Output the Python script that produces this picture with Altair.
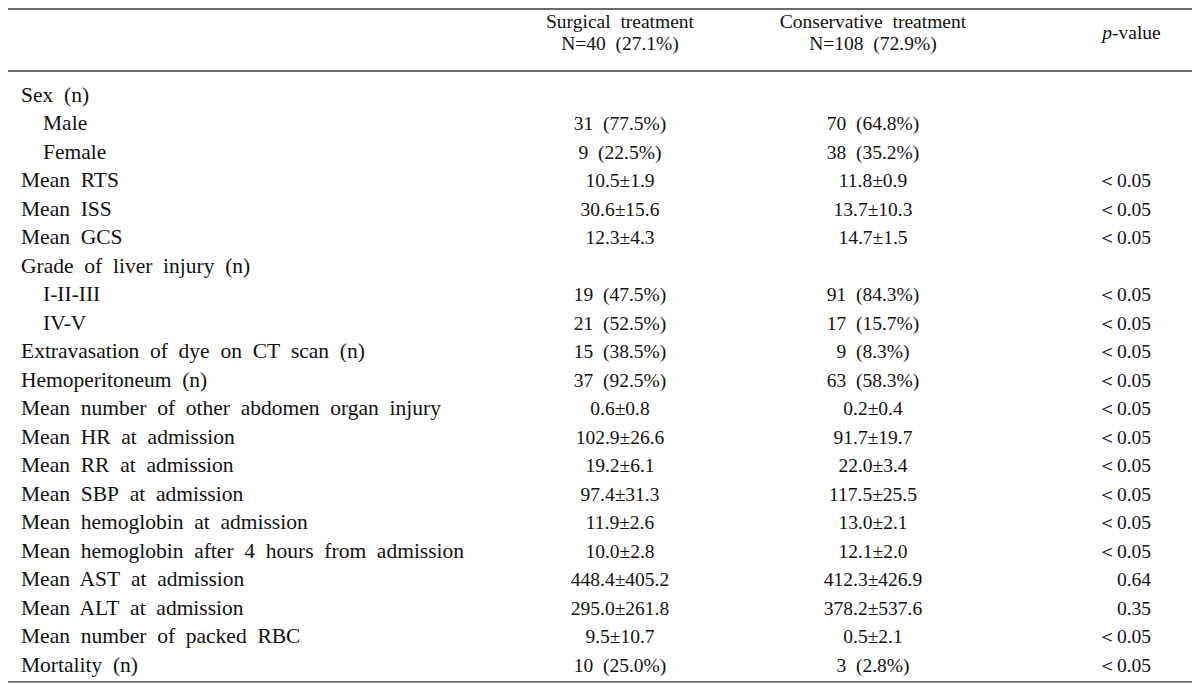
import altair as alt
import pandas as pd

labels = ["Sex  (n)", "Male", "Female", "Mean  RTS", "Mean  ISS", "Mean  GCS",
          "Grade  of  liver  injury  (n)", "I-II-III", "IV-V",
          "Extravasation  of  dye  on  CT  scan  (n)", "Hemoperitoneum  (n)",
          "Mean  number  of  other  abdomen  organ  injury",
          "Mean  HR  at  admission", "Mean  RR  at  admission", "Mean  SBP  at  admission",
          "Mean  hemoglobin  at  admission", "Mean  hemoglobin  after  4  hours  from  admission",
          "Mean  AST  at  admission", "Mean  ALT  at  admission",
          "Mean  number  of  packed  RBC", "Mortality  (n)"]
levels = [0, 1, 1, 0, 0, 0, 0, 1, 1, 0, 0, 0, 0, 0, 0, 0, 0, 0, 0, 0, 0]
surgical = ["", "31  (77.5%)", "9  (22.5%)", "10.5±1.9", "30.6±15.6", "12.3±4.3", "",
            "19  (47.5%)", "21  (52.5%)", "15  (38.5%)", "37  (92.5%)", "0.6±0.8",
            "102.9±26.6", "19.2±6.1", "97.4±31.3", "11.9±2.6", "10.0±2.8",
            "448.4±405.2", "295.0±261.8", "9.5±10.7", "10  (25.0%)"]
conservative = ["", "70  (64.8%)", "38  (35.2%)", "11.8±0.9", "13.7±10.3", "14.7±1.5", "",
                "91  (84.3%)", "17  (15.7%)", "9  (8.3%)", "63  (58.3%)", "0.2±0.4",
                "91.7±19.7", "22.0±3.4", "117.5±25.5", "13.0±2.1", "12.1±2.0",
                "412.3±426.9", "378.2±537.6", "0.5±2.1", "3  (2.8%)"]
pvalues = ["", "", "", "＜0.05", "＜0.05", "＜0.05", "", "＜0.05", "＜0.05", "＜0.05",
           "＜0.05", "＜0.05", "＜0.05", "＜0.05", "＜0.05", "＜0.05", "＜0.05",
           "0.64", "0.35", "＜0.05", "＜0.05"]

head_line1 = ["Surgical  treatment", "Conservative  treatment"]
head_line2 = ["N=40  (27.1%)", "N=108  (72.9%)"]


def sp(s):
    # keep the double spacing of the original typesetting
    return s.replace("  ", "\u00a0 ")


W, H = 1184, 675
FONT = "Liberation Serif"
FS_LABEL = 21.5
FS_NUM = 19.5
COL = "#111111"

rows = pd.DataFrame({
    "row": list(range(len(labels))),
    "label": [sp(s) for s in labels],
    "level": levels,
    "surg": [sp(s) for s in surgical],
    "cons": [sp(s) for s in conservative],
    "p": pvalues,
})

yscale = alt.Scale(domain=[-3.0877, 20.597], reverse=True)
yenc = alt.Y("row:Q", scale=yscale, axis=None)


def text_layer(data, field, x, align="left", italic=False, size=FS_NUM):
    return alt.Chart(data).mark_text(
        align=align, baseline="middle", font=FONT, fontSize=size, color=COL,
        fontStyle="italic" if italic else "normal"
    ).encode(x=alt.value(x), y=yenc, text=f"{field}:N")


base = rows
top_labels = text_layer(base[base.level == 0], "label", 13, size=FS_LABEL)
sub_labels = text_layer(base[base.level == 1], "label", 35, size=FS_LABEL)
surg_vals = text_layer(base, "surg", 612, align="center")
cons_vals = text_layer(base, "cons", 865, align="center")
p_vals = text_layer(base, "p", 1143, align="right")

head1 = pd.DataFrame({"row": [-2.596] * 2, "t": [sp(s) for s in head_line1]})
head2 = pd.DataFrame({"row": [-1.825] * 2, "t": [sp(s) for s in head_line2]})
h1s = text_layer(head1.iloc[[0]], "t", 612, align="center")
h1c = text_layer(head1.iloc[[1]], "t", 865, align="center")
h2s = text_layer(head2.iloc[[0]], "t", 612, align="center")
h2c = text_layer(head2.iloc[[1]], "t", 865, align="center")
pv = pd.DataFrame({"row": [-2.21], "a": ["p"], "b": ["-value"]})
pv_a = text_layer(pv, "a", 1104, align="right", italic=True)
pv_b = text_layer(pv, "b", 1104, align="left")

rules_df = pd.DataFrame({"row": [-3.0526, -0.877, 20.56]})
rules = alt.Chart(rules_df).mark_rule(color="#6b6b6b", strokeWidth=1.8).encode(
    y=yenc, x=alt.value(0), x2=alt.value(W)
)

chart = alt.layer(
    rules, top_labels, sub_labels, surg_vals, cons_vals, p_vals,
    h1s, h1c, h2s, h2c, pv_a, pv_b
).properties(
    width=W, height=H, autosize=alt.AutoSizeParams(type="none"), padding=0,
    background="white"
).configure_view(stroke=None)

chart.save("out.html", embed_options={"renderer": "svg", "actions": False})
